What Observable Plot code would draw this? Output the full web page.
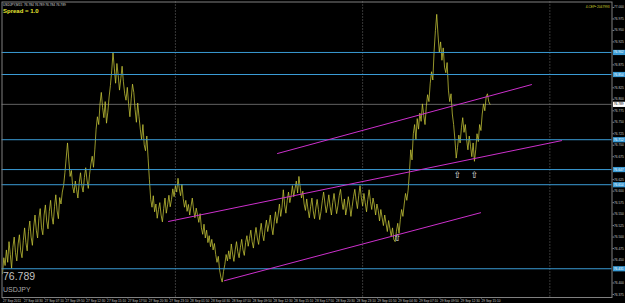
<!DOCTYPE html>
<html><head><meta charset="utf-8">
<script src="https://cdn.jsdelivr.net/npm/d3@7"></script>
<script src="https://cdn.jsdelivr.net/npm/@observablehq/plot@0.6"></script>
<style>html,body{margin:0;padding:0;background:#000;overflow:hidden}</style>
</head><body><div id="chart"></div>
<script>
// ---- data ----
const symbolName = "USDJPY";
const infoLine = "USDJPY,M15  76.784 76.789 76.784 76.789";
const spreadText = "Spread = 1.0";
const brokerText = "4-CEP\u2022 2047993";
const startHour = 1.833;        // hours since 27 Sep 2011 00:00 (01:50)
const stepHours = 1 / 6;        // one close every 10 minutes
const closes = [
  76.420, 76.455, 76.438, 76.472, 76.445, 76.490, 76.462, 76.432, 76.478, 76.500, 76.466, 76.448, 76.485, 76.505, 76.470,
  76.455, 76.492, 76.520, 76.488, 76.470, 76.512, 76.535, 76.500, 76.482, 76.522, 76.548, 76.515, 76.498, 76.541, 76.562,
  76.520, 76.505, 76.548, 76.570, 76.535, 76.518, 76.556, 76.580, 76.545, 76.528, 76.566, 76.592, 76.557, 76.540, 76.586,
  76.572, 76.598, 76.612, 76.640, 76.672, 76.705, 76.668, 76.632, 76.645, 76.610, 76.596, 76.622, 76.603, 76.585, 76.618,
  76.640, 76.612, 76.598, 76.630, 76.651, 76.624, 76.606, 76.637, 76.659, 76.676, 76.652, 76.690, 76.735, 76.762, 76.745,
  76.790, 76.815, 76.782, 76.760, 76.795, 76.748, 76.772, 76.805, 76.830, 76.862, 76.902, 76.868, 76.835, 76.878, 76.852,
  76.820, 76.845, 76.872, 76.838, 76.812, 76.798, 76.826, 76.790, 76.762, 76.801, 76.833, 76.815, 76.778, 76.750, 76.792,
  76.762, 76.735, 76.712, 76.745, 76.701, 76.688, 76.720, 76.672, 76.625, 76.582, 76.565, 76.590, 76.555, 76.572, 76.541,
  76.560, 76.575, 76.548, 76.533, 76.562, 76.585, 76.552, 76.570, 76.591, 76.566, 76.582, 76.605, 76.588, 76.612, 76.598,
  76.628, 76.605, 76.590, 76.615, 76.584, 76.565, 76.580, 76.556, 76.571, 76.548, 76.567, 76.585, 76.559, 76.542, 76.563,
  76.548, 76.532, 76.551, 76.520, 76.506, 76.528, 76.498, 76.515, 76.488, 76.503, 76.479, 76.495, 76.472, 76.486, 76.462,
  76.445, 76.458, 76.428, 76.412, 76.402, 76.425, 76.440, 76.462, 76.448, 76.470, 76.452, 76.485, 76.463, 76.447, 76.472,
  76.490, 76.468, 76.455, 76.478, 76.495, 76.472, 76.460, 76.488, 76.503, 76.480, 76.497, 76.515, 76.490, 76.476, 76.502,
  76.521, 76.498, 76.484, 76.509, 76.530, 76.506, 76.492, 76.518, 76.537, 76.512, 76.528, 76.548, 76.522, 76.505, 76.533,
  76.555, 76.530, 76.548, 76.572, 76.545, 76.565, 76.603, 76.570, 76.552, 76.580, 76.598, 76.575, 76.590, 76.612, 76.588,
  76.605, 76.622, 76.596, 76.632, 76.608, 76.585, 76.600, 76.572, 76.558, 76.583, 76.560, 76.542, 76.566, 76.585, 76.557,
  76.540, 76.563, 76.582, 76.560, 76.538, 76.556, 76.579, 76.598, 76.574, 76.553, 76.570, 76.592, 76.566, 76.548, 76.575,
  76.595, 76.572, 76.551, 76.568, 76.590, 76.604, 76.578, 76.560, 76.583, 76.548, 76.565, 76.588, 76.570, 76.545, 76.567,
  76.588, 76.604, 76.580, 76.562, 76.590, 76.612, 76.586, 76.568, 76.595, 76.575, 76.555, 76.582, 76.603, 76.578, 76.560,
  76.585, 76.570, 76.548, 76.572, 76.558, 76.535, 76.560, 76.542, 76.525, 76.548, 76.530, 76.512, 76.536, 76.518, 76.502,
  76.520, 76.495, 76.490, 76.512, 76.530, 76.508, 76.538, 76.560, 76.545, 76.572, 76.595, 76.580, 76.602, 76.640, 76.690,
  76.668, 76.725, 76.745, 76.712, 76.758, 76.735, 76.770, 76.752, 76.790, 76.765, 76.745, 76.785, 76.810, 76.795, 76.835,
  76.860, 76.842, 76.905, 76.950, 76.985, 76.940, 76.902, 76.925, 76.885, 76.912, 76.870, 76.858, 76.880, 76.820, 76.795,
  76.812, 76.768, 76.745, 76.712, 76.672, 76.695, 76.722, 76.705, 76.738, 76.760, 76.728, 76.745, 76.712, 76.690, 76.720,
  76.698, 76.675, 76.705, 76.665, 76.690, 76.725, 76.708, 76.745, 76.732, 76.768, 76.790, 76.775, 76.805, 76.812, 76.795,
  76.789
];
const currentPrice = 76.789;
const xTickHours = [1.833, 4.5, 7.167, 9.833, 12.5, 15.167, 17.833, 20.5, 23.167, 25.833, 28.5, 31.167,
  33.833, 36.5, 39.167, 41.833, 44.5, 47.167, 49.833, 52.5, 55.167, 57.833, 60.5, 63.167];
const xTickLabels = ["27 Sep 2011", "27 Sep 04:30", "27 Sep 07:10", "27 Sep 09:50", "27 Sep 12:30", "27 Sep 15:10",
  "27 Sep 17:50", "27 Sep 20:30", "27 Sep 23:10", "28 Sep 01:50", "28 Sep 04:30", "28 Sep 07:10",
  "28 Sep 09:50", "28 Sep 12:30", "28 Sep 15:10", "28 Sep 17:50", "28 Sep 20:30", "28 Sep 23:10",
  "29 Sep 01:50", "29 Sep 04:30", "29 Sep 07:10", "29 Sep 09:50", "29 Sep 12:30", "29 Sep 15:10"];
const yTicks = [76.375, 76.400, 76.425, 76.450, 76.475, 76.500, 76.525, 76.550, 76.575, 76.600, 76.625,
  76.650, 76.675, 76.700, 76.725, 76.750, 76.775, 76.800, 76.825, 76.850, 76.875, 76.900, 76.925,
  76.950, 76.975, 77.000];
const levels = [76.902, 76.854, 76.712, 76.647, 76.614, 76.431];
const daySeparators = [24, 48, 72];
const channelUpper = [[37.09, 76.682], [69.65, 76.832]];
const channelMiddle = [[23.12, 76.534], [73.50, 76.710]];
const channelLower = [[30.29, 76.405], [63.12, 76.553]];
const arrowHours = [52.47, 60.17, 62.35];
const arrowPrices = [76.497, 76.636, 76.636];

// ---- derived tables ----
const series = closes.map((p, i) => ({t: startHour + i * stepHours, p}));
const channels = [
  ...channelUpper.map(([t, p]) => ({t, p, k: "upper"})),
  ...channelMiddle.map(([t, p]) => ({t, p, k: "middle"})),
  ...channelLower.map(([t, p]) => ({t, p, k: "lower"}))
];
const arrows = arrowHours.map((t, i) => ({t, p: arrowPrices[i]}));
const tickLabel = new Map(xTickHours.map((h, i) => [h, xTickLabels[i]]));
// price-scale labels hidden under the level / current-price boxes
const boxed = [...levels, currentPrice];
const yTicksShown = yTicks.filter(t => boxed.every(b => Math.abs(b - t) > 0.008));

const boxSymbol = {draw(ctx) { ctx.moveTo(-6.5, -2.6); ctx.lineTo(6.5, -2.6); ctx.lineTo(6.5, 2.6); ctx.lineTo(-6.5, 2.6); ctx.closePath(); }};

const fontFam = "Liberation Sans, Arial, sans-serif";
const chart = Plot.plot({
  width: 625, height: 303,
  marginTop: 1.5, marginRight: 13.5, marginBottom: 6, marginLeft: 1.5,
  style: {background: "#000", color: "#c8c8c8", fontFamily: fontFam},
  x: {domain: [1.769, 79.97]},
  y: {domain: [76.3684, 77.0119]},
  marks: [
    Plot.ruleX(daySeparators, {stroke: "#8a8a8a", strokeDasharray: "1,2", strokeWidth: 0.8}),
    Plot.ruleY([currentPrice], {stroke: "#7a7a7a", strokeWidth: 0.8}),
    Plot.line(series, {x: "t", y: "p", stroke: "#c8c83a", strokeWidth: 0.75}),
    Plot.ruleY(levels, {stroke: "#3a9bd5", strokeWidth: 1}),
    Plot.line(channels, {x: "t", y: "p", z: "k", stroke: "#cc30cc", strokeWidth: 1}),
    Plot.text(arrows, {x: "t", y: "p", text: () => "\u21e7", fill: "#e8e8e8", fontSize: 9, fontFamily: "DejaVu Sans"}),
    Plot.frame({stroke: "#808080", strokeWidth: 1}),
    Plot.axisY(yTicksShown, {anchor: "right", label: null, tickSize: 1.5, tickPadding: 0.5, fontSize: 3.2,
      tickFormat: d => d.toFixed(3), stroke: "#808080", fill: "#c8c8c8"}),
    Plot.axisX(xTickHours, {anchor: "bottom", label: null, tickSize: 1.5, tickPadding: 0.3, fontSize: 3.2,
      textAnchor: "start", dx: 0.6, tickFormat: d => tickLabel.get(d), stroke: "#808080", fill: "#c8c8c8"}),
    Plot.dot(levels, {y: d => d, frameAnchor: "right", dx: 7.5, symbol: boxSymbol, fill: "#3a9bd5", stroke: null}),
    Plot.text(levels, {y: d => d, frameAnchor: "right", dx: 1.8, textAnchor: "start", fontSize: 3.2,
      text: d => d.toFixed(3), fill: "#ffffff"}),
    Plot.dot([currentPrice], {y: d => d, frameAnchor: "right", dx: 7.5, symbol: boxSymbol, fill: "#ffffff", stroke: null}),
    Plot.text([currentPrice], {y: d => d, frameAnchor: "right", dx: 1.8, textAnchor: "start", fontSize: 3.2,
      text: d => d.toFixed(3), fill: "#000"}),
    Plot.text([infoLine], {frameAnchor: "top-left", dx: 1, dy: 2.2, textAnchor: "start", fontSize: 3.2, fill: "#d8d8d8", text: d => d}),
    Plot.text([spreadText], {frameAnchor: "top-left", dx: 1, dy: 6.8, textAnchor: "start", fontSize: 6, fontWeight: "bold", fill: "#e6e632", text: d => d}),
    Plot.text([brokerText], {frameAnchor: "top-right", dx: -2.5, dy: 3.5, textAnchor: "end", fontSize: 3.2, fill: "#d8d830", text: d => d}),
    Plot.text([currentPrice], {frameAnchor: "bottom-left", dx: 1, dy: -17.5, textAnchor: "start", fontSize: 10.5, fill: "#c0c0c0", text: d => d.toFixed(3)}),
    Plot.text([symbolName], {frameAnchor: "bottom-left", dx: 1, dy: -6, textAnchor: "start", fontSize: 7, fill: "#a8a8a8", text: d => d})
  ]
});
document.getElementById("chart").appendChild(chart);
</script>
</body></html>
